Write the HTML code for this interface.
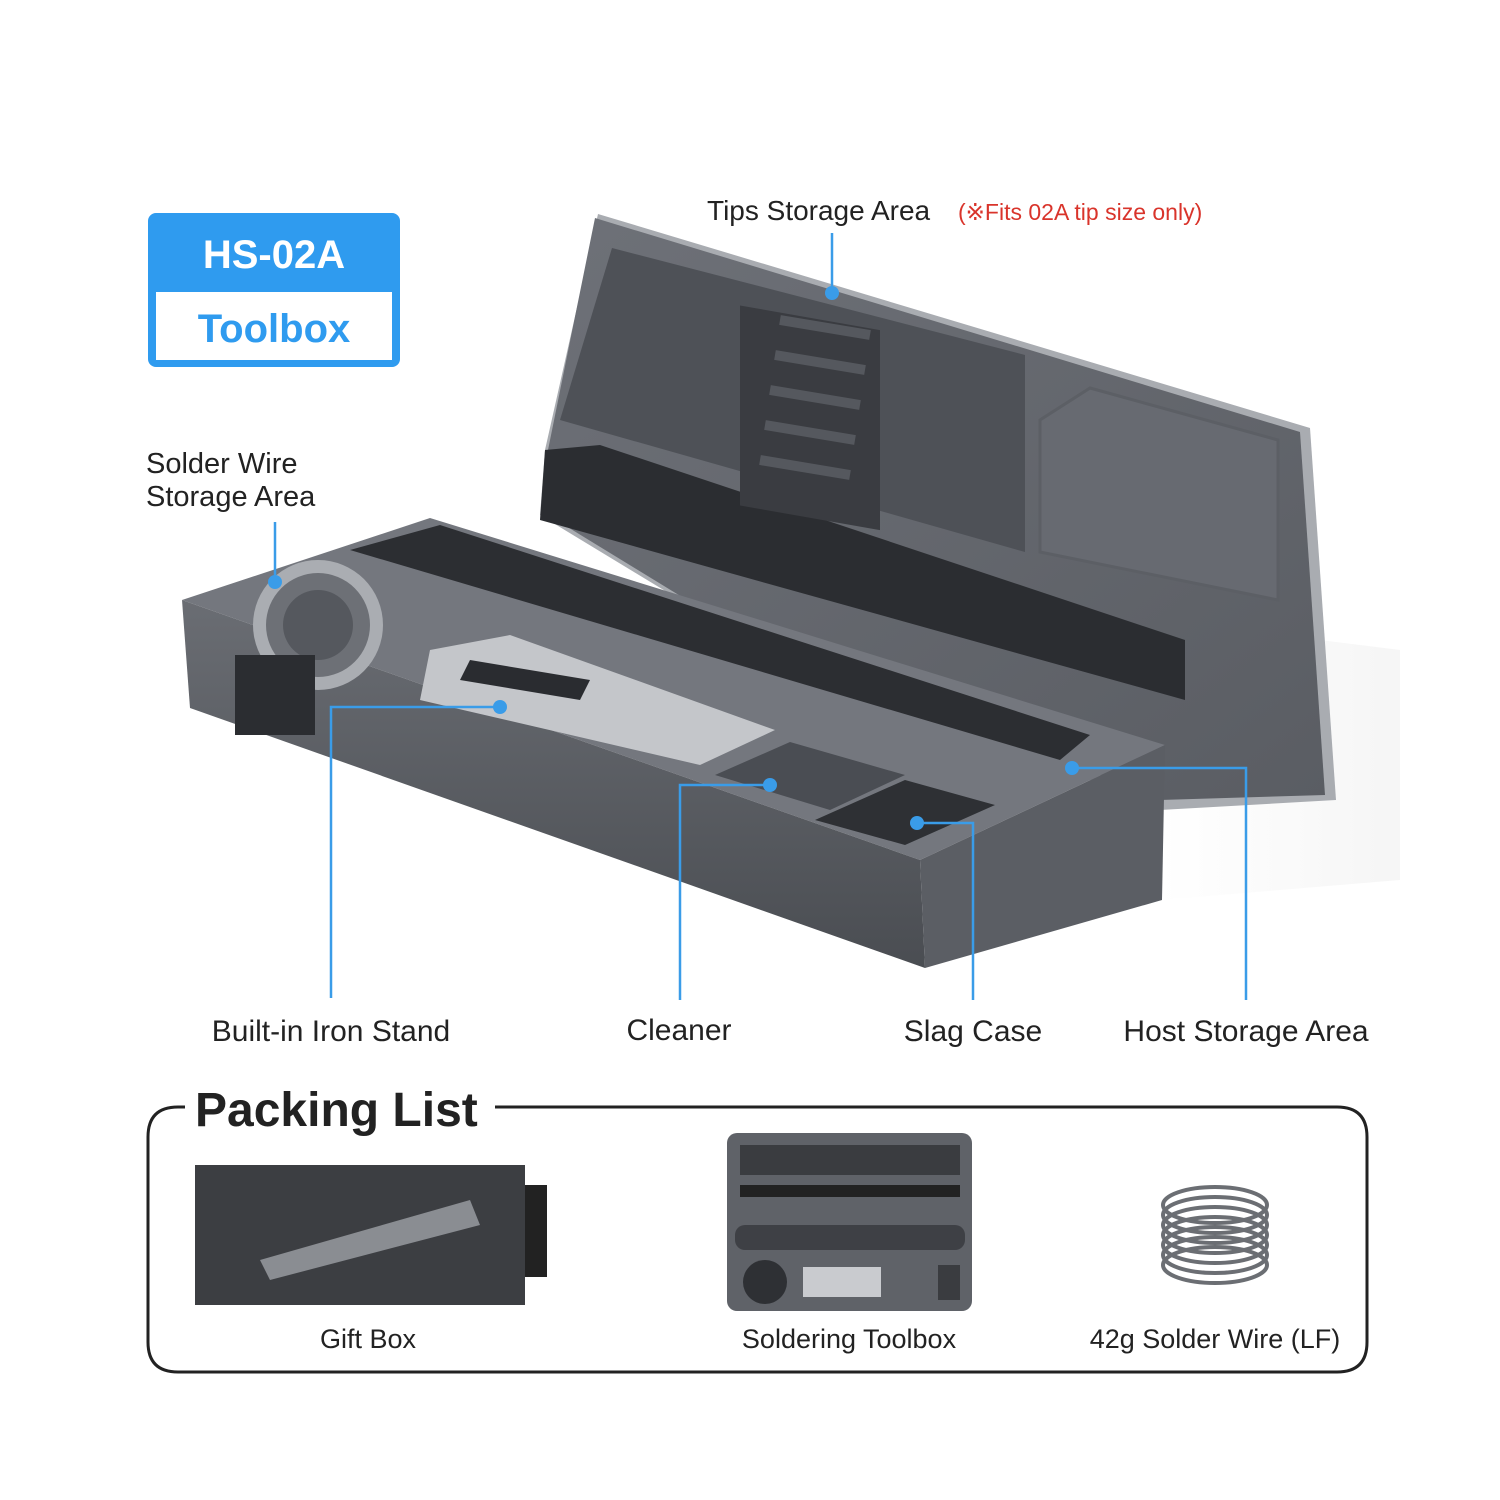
<!DOCTYPE html>
<html><head><meta charset="utf-8"><style>
html,body{margin:0;padding:0;background:#fff;}
svg{display:block;}
text{font-family:"Liberation Sans",sans-serif;}
</style></head><body>
<svg width="1500" height="1500" viewBox="0 0 1500 1500" xmlns="http://www.w3.org/2000/svg">
<defs>
<linearGradient id="lid" x1="0" y1="0" x2="1" y2="1"><stop offset="0" stop-color="#6e7178"/><stop offset="1" stop-color="#5a5d63"/></linearGradient>
<linearGradient id="front" x1="0" y1="0" x2="0" y2="1"><stop offset="0" stop-color="#6a6d73"/><stop offset="1" stop-color="#4a4d52"/></linearGradient>
<linearGradient id="shadow" x1="0" y1="0" x2="1" y2="0"><stop offset="0" stop-color="#fff"/><stop offset="1" stop-color="#ececec"/></linearGradient>
</defs>
<rect width="1500" height="1500" fill="#fff"/>
<polygon points="1160,620 1400,650 1400,880 1160,900" fill="url(#shadow)" opacity="0.5"/>
<polygon points="598,214 1310,428 1336,800 1160,810 700,612 540,515 545,450" fill="#a9acb1"/>
<polygon points="595,218 1300,432 1325,795 1160,800 700,608 543,512 548,450" fill="url(#lid)"/>
<polygon points="612,248 1025,355 1025,552 560,420" fill="#4e5157"/>
<polygon points="1090,388 1278,440 1278,600 1040,552 1040,420" fill="#676a71" stroke="#5c5f65" stroke-width="3"/>
<polygon points="545,450 600,445 1185,640 1185,700 540,520" fill="#2b2d31"/>
<rect x="740" y="305" width="140" height="200" transform="skewY(10) translate(0,-130)" fill="#3a3c41"/>
<g stroke="#55585e" stroke-width="10">
<line x1="780" y1="320" x2="870" y2="335"/><line x1="775" y1="355" x2="865" y2="370"/><line x1="770" y1="390" x2="860" y2="405"/><line x1="765" y1="425" x2="855" y2="440"/><line x1="760" y1="460" x2="850" y2="475"/>
</g>
<polygon points="182,600 430,518 1165,745 920,860" fill="#74777e"/>
<polygon points="182,600 920,860 925,968 190,708" fill="url(#front)"/>
<polygon points="920,860 1165,745 1162,900 925,968" fill="#5b5e64"/>
<polygon points="350,550 440,525 1090,735 1060,760" fill="#2c2e32"/>
<circle cx="318" cy="625" r="65" fill="#aaadb2"/>
<circle cx="318" cy="625" r="52" fill="#6d7076"/>
<circle cx="318" cy="625" r="35" fill="#55585e"/>
<polygon points="430,650 510,635 775,730 700,765 420,700" fill="#c4c6ca"/>
<polygon points="470,660 590,680 580,700 460,680" fill="#2a2c30"/>
<polygon points="715,775 790,742 905,775 830,810" fill="#4a4d53"/>
<polygon points="815,820 905,780 995,805 905,845" fill="#2e3034"/>
<rect x="235" y="655" width="80" height="80" fill="#2b2d31"/>
<rect x="148" y="213" width="252" height="154" rx="8" fill="#2f9bef"/>
<rect x="156" y="292" width="236" height="68" fill="#fff"/>
<text x="274" y="268" font-size="40" font-weight="bold" fill="#fff" text-anchor="middle">HS-02A</text>
<text x="274" y="342" font-size="40" font-weight="bold" fill="#2f9bef" text-anchor="middle">Toolbox</text>
<g stroke="#3a9ce8" stroke-width="2.5" fill="none">
<path d="M832,233 V293"/>
<path d="M275,522 V582"/>
<path d="M500,707 H331 V998"/>
<path d="M770,785 H680 V1000"/>
<path d="M917,823 H973 V1000"/>
<path d="M1072,768 H1246 V1000"/>
</g>
<g fill="#3a9ce8"><circle cx="832" cy="293" r="7"/><circle cx="275" cy="582" r="7"/><circle cx="500" cy="707" r="7"/><circle cx="770" cy="785" r="7"/><circle cx="917" cy="823" r="7"/><circle cx="1072" cy="768" r="7"/></g>
<g fill="#222">
<text x="707" y="220" font-size="28">Tips Storage Area</text>
<text x="146" y="473" font-size="29">Solder Wire</text>
<text x="146" y="506" font-size="29">Storage Area</text>
<g font-size="30" text-anchor="middle">
<text x="331" y="1041">Built-in Iron Stand</text>
<text x="679" y="1040">Cleaner</text>
<text x="973" y="1041">Slag Case</text>
<text x="1246" y="1041">Host Storage Area</text>
</g>
</g>
<text x="958" y="220" font-size="23" fill="#d9342b">(※Fits 02A tip size only)</text>
<path d="M185,1107 H178 Q148,1107 148,1137 V1342 Q148,1372 178,1372 H1337 Q1367,1372 1367,1342 V1137 Q1367,1107 1337,1107 H495" fill="none" stroke="#222" stroke-width="3"/>
<text x="195" y="1126" font-size="48" font-weight="bold" fill="#222">Packing List</text>
<rect x="195" y="1165" width="330" height="140" fill="#3c3e42"/>
<rect x="525" y="1185" width="22" height="92" fill="#222"/>
<polygon points="260,1260 470,1200 480,1225 270,1280" fill="#8a8d92"/>
<rect x="727" y="1133" width="245" height="178" rx="10" fill="#5f6268"/>
<rect x="740" y="1145" width="220" height="30" fill="#3a3c40"/>
<rect x="740" y="1185" width="220" height="12" fill="#222"/>
<rect x="735" y="1225" width="230" height="25" rx="10" fill="#3e4045"/>
<circle cx="765" cy="1282" r="22" fill="#2e3034"/>
<rect x="803" y="1267" width="78" height="30" fill="#c9cbcf"/>
<rect x="938" y="1265" width="22" height="35" fill="#3a3c40"/>
<g fill="none" stroke="#6b6e73" stroke-width="4">
<ellipse cx="1215" cy="1205" rx="52" ry="18"/><ellipse cx="1215" cy="1215" rx="52" ry="18"/><ellipse cx="1215" cy="1225" rx="52" ry="18"/><ellipse cx="1215" cy="1235" rx="52" ry="18"/><ellipse cx="1215" cy="1245" rx="52" ry="18"/><ellipse cx="1215" cy="1255" rx="52" ry="18"/><ellipse cx="1215" cy="1265" rx="52" ry="18"/>
</g>
<g font-size="27" fill="#222" text-anchor="middle">
<text x="368" y="1348">Gift Box</text>
<text x="849" y="1348">Soldering Toolbox</text>
<text x="1215" y="1348">42g Solder Wire (LF)</text>
</g>
</svg>
</body></html>
